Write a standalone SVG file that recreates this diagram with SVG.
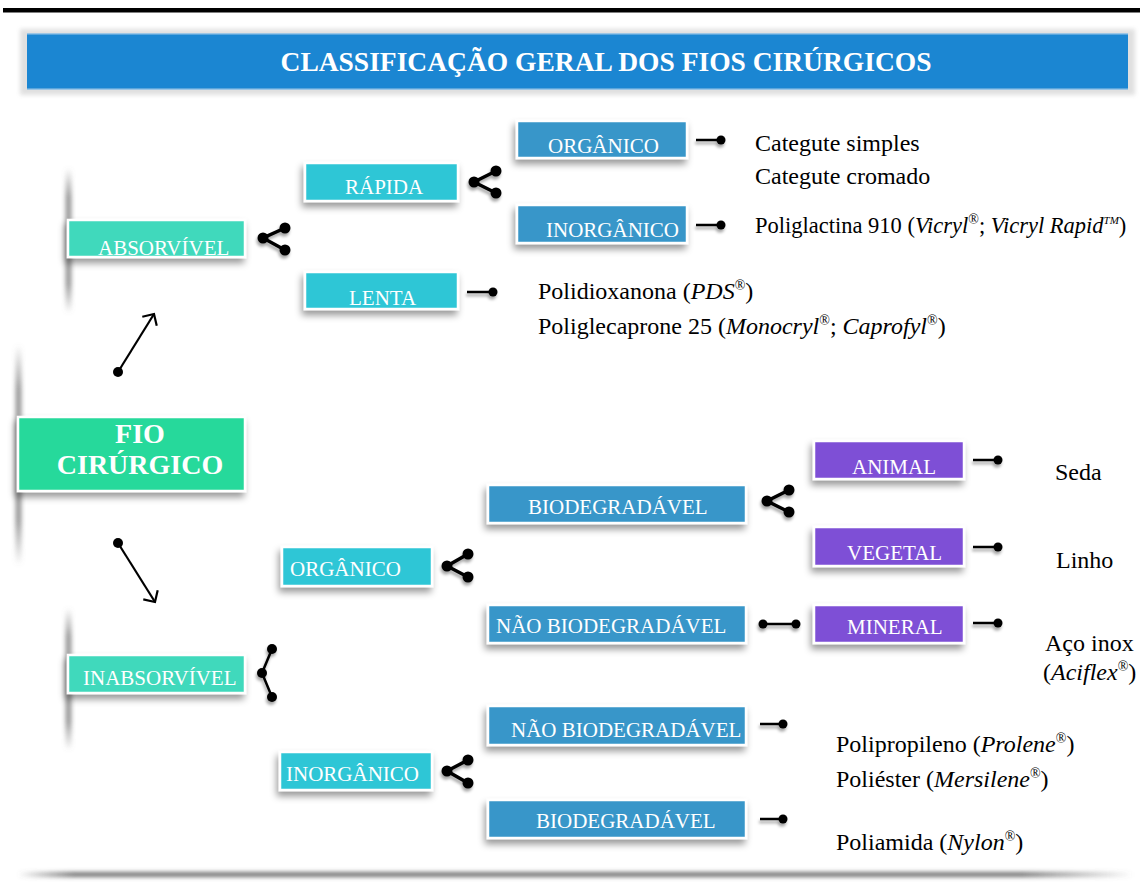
<svg xmlns="http://www.w3.org/2000/svg" width="1140" height="892" viewBox="0 0 1140 892">
<defs>
<style>
.nt{font-family:"Liberation Serif","Times New Roman",serif;font-size:21px;fill:#ffffff}
.lb{font-family:"Liberation Serif","Times New Roman",serif;font-size:24px;fill:#000000}
.lbs{font-size:22.5px}
.sup{font-size:14px}
.b{stroke:#ffffff;stroke-width:2.5}
.l1{fill:#40d9bc}
.l0{fill:#27d99b}
.l2{fill:#2fc6d6}
.l3{fill:#3796c9}
.l4{fill:#7e4fd6}
.ln{stroke:#000;stroke-width:2.5;fill:none}
.sl{stroke:#000;stroke-width:3.5;fill:none}
.ar{stroke:#000;stroke-width:2.2;fill:none}
</style>
<filter id="sh" x="-20%" y="-40%" width="140%" height="190%">
<feDropShadow dx="-2" dy="5" stdDeviation="3.5" flood-color="#000" flood-opacity="0.4"/>
</filter>
<filter id="ish" x="-50%" y="-50%" width="200%" height="200%">
<feDropShadow dx="-1" dy="3" stdDeviation="1.5" flood-color="#000" flood-opacity="0.35"/>
</filter>
<filter id="bl" x="-100%" y="-20%" width="300%" height="140%">
<feGaussianBlur stdDeviation="2.5"/>
</filter>
<filter id="bl2" x="-10%" y="-100%" width="120%" height="300%">
<feGaussianBlur stdDeviation="2"/>
</filter>
<linearGradient id="vf" x1="0" y1="0" x2="0" y2="1">
<stop offset="0" stop-color="#777" stop-opacity="0"/>
<stop offset="0.2" stop-color="#777" stop-opacity="0.9"/>
<stop offset="0.8" stop-color="#777" stop-opacity="0.9"/>
<stop offset="1" stop-color="#777" stop-opacity="0"/>
</linearGradient>
<linearGradient id="hf" x1="0" y1="0" x2="1" y2="0">
<stop offset="0" stop-color="#666" stop-opacity="0"/>
<stop offset="0.05" stop-color="#666" stop-opacity="0.9"/>
<stop offset="0.9" stop-color="#666" stop-opacity="0.9"/>
<stop offset="1" stop-color="#666" stop-opacity="0"/>
</linearGradient>
<marker id="chev" viewBox="-12 -12 24 24" markerWidth="24" markerHeight="24" refX="0" refY="0" orient="auto" markerUnits="userSpaceOnUse">
<path d="M-8.5,-8.5 L0,0 L-8.5,8.5" stroke="#000" stroke-width="2.2" fill="none"/>
</marker>
</defs>
<rect x="0" y="0" width="1140" height="892" fill="#ffffff"/>

<g id="frame">
<rect x="3" y="8" width="1137" height="4.5" fill="#000"/>
<rect x="20" y="29" width="1115" height="66" fill="#9a9a9a" opacity="0.3" filter="url(#bl2)"/>
<rect x="66" y="168" width="5" height="145" fill="url(#vf)" filter="url(#bl)"/>
<rect x="16" y="345" width="5" height="220" fill="url(#vf)" filter="url(#bl)"/>
<rect x="66" y="608" width="5" height="142" fill="url(#vf)" filter="url(#bl)"/>
<rect x="18" y="872" width="1115" height="5" fill="url(#hf)" filter="url(#bl2)"/>
</g>

<g id="title">
<rect x="27" y="33" width="1101" height="57" fill="#1b86d2"/>
<rect x="27" y="33" width="1101" height="1.5" fill="#9cc6e6"/>
<rect x="27" y="88.5" width="1101" height="1.5" fill="#9cc6e6"/>
<text x="606" y="71" text-anchor="middle" font-family="Liberation Serif, Times New Roman, serif" font-weight="bold" font-size="27.5" fill="#fff">CLASSIFICAÇÃO GERAL DOS FIOS CIRÚRGICOS</text>
</g>

<g id="connectors">
<circle cx="118" cy="372" r="5"/>
<line class="ar" x1="118" y1="372" x2="154" y2="314" marker-end="url(#chev)"/>
<circle cx="118" cy="543" r="5"/>
<line class="ar" x1="118" y1="543" x2="155" y2="602" marker-end="url(#chev)"/>
<g filter="url(#ish)">
<path class="sl" d="M285,228 L263,238 L285,250"/>
<circle cx="263" cy="238" r="5.5"/><circle cx="285" cy="228" r="5.5"/><circle cx="285" cy="250" r="5.5"/>
<path class="sl" d="M496,171 L474,182 L496,193"/>
<circle cx="474" cy="182" r="5.5"/><circle cx="496" cy="171" r="5.5"/><circle cx="496" cy="193" r="5.5"/>
<path class="sl" d="M468,554 L447,566 L468,577"/>
<circle cx="447" cy="566" r="5.5"/><circle cx="468" cy="554" r="5.5"/><circle cx="468" cy="577" r="5.5"/>
<path class="sl" d="M789,490 L767,501 L789,512"/>
<circle cx="767" cy="501" r="5.5"/><circle cx="789" cy="490" r="5.5"/><circle cx="789" cy="512" r="5.5"/>
<path class="sl" d="M468,760 L447,771 L468,783"/>
<circle cx="447" cy="771" r="5.5"/><circle cx="468" cy="760" r="5.5"/><circle cx="468" cy="783" r="5.5"/>
<path class="ln" d="M272,649 L262,673 L272,697" stroke-width="3"/>
<circle cx="272" cy="649" r="5"/><circle cx="262" cy="673" r="5"/><circle cx="272" cy="697" r="5"/>
<line class="ln" x1="696" y1="140" x2="721" y2="140"/><circle cx="721" cy="140" r="4.5"/>
<line class="ln" x1="696" y1="225" x2="721" y2="225"/><circle cx="721" cy="225" r="4.5"/>
<line class="ln" x1="467" y1="292" x2="493" y2="292"/><circle cx="493" cy="292" r="4.5"/>
<line class="ln" x1="973" y1="460" x2="998" y2="460"/><circle cx="998" cy="460" r="4.5"/>
<line class="ln" x1="973" y1="547" x2="998" y2="547"/><circle cx="998" cy="547" r="4.5"/>
<line class="ln" x1="973" y1="623" x2="998" y2="623"/><circle cx="998" cy="623" r="4.5"/>
<line class="ln" x1="760" y1="724" x2="783" y2="724"/><circle cx="783" cy="724" r="4.5"/>
<line class="ln" x1="760" y1="819" x2="783" y2="819"/><circle cx="783" cy="819" r="4.5"/>
<line class="ln" x1="763" y1="624" x2="796" y2="624"/><circle cx="763" cy="624" r="4.5"/><circle cx="796" cy="624" r="4.5"/>
</g>
</g>

<g id="n-fio">
<rect class="b l0" x="18" y="417" width="227" height="74" filter="url(#sh)"/>
<text x="140" y="443" text-anchor="middle" font-family="Liberation Serif, Times New Roman, serif" font-weight="bold" font-size="28" fill="#fff">FIO</text>
<text x="140" y="474" text-anchor="middle" font-family="Liberation Serif, Times New Roman, serif" font-weight="bold" font-size="28" fill="#fff">CIRÚRGICO</text>
</g>
<g id="n-absorvivel"><rect class="b l1" x="68" y="220" width="177" height="37" filter="url(#sh)"/><text class="nt" x="98" y="255">ABSORVÍVEL</text></g>
<g id="n-inabsorvivel"><rect class="b l1" x="68" y="655" width="177" height="38" filter="url(#sh)"/><text class="nt" x="83" y="685">INABSORVÍVEL</text></g>
<g id="n-rapida"><rect class="b l2" x="305" y="163" width="153" height="38" filter="url(#sh)"/><text class="nt" x="345" y="194">RÁPIDA</text></g>
<g id="n-lenta"><rect class="b l2" x="305" y="272" width="153" height="37" filter="url(#sh)"/><text class="nt" x="349" y="305">LENTA</text></g>
<g id="n-org1"><rect class="b l3" x="517" y="121" width="170" height="37" filter="url(#sh)"/><text class="nt" x="548" y="153">ORGÂNICO</text></g>
<g id="n-inorg1"><rect class="b l3" x="517" y="205" width="170" height="38" filter="url(#sh)"/><text class="nt" x="546" y="237">INORGÂNICO</text></g>
<g id="n-org2"><rect class="b l2" x="282" y="547" width="150" height="39" filter="url(#sh)"/><text class="nt" x="290" y="576">ORGÂNICO</text></g>
<g id="n-inorg2"><rect class="b l2" x="280" y="752" width="152" height="38" filter="url(#sh)"/><text class="nt" x="286" y="781">INORGÂNICO</text></g>
<g id="n-bio1"><rect class="b l3" x="488" y="485" width="258" height="38" filter="url(#sh)"/><text class="nt" x="528" y="514">BIODEGRADÁVEL</text></g>
<g id="n-naobio1"><rect class="b l3" x="488" y="605" width="258" height="38" filter="url(#sh)"/><text class="nt" x="496" y="633">NÃO BIODEGRADÁVEL</text></g>
<g id="n-naobio2"><rect class="b l3" x="488" y="706" width="258" height="39" filter="url(#sh)"/><text class="nt" x="511" y="737">NÃO BIODEGRADÁVEL</text></g>
<g id="n-bio2"><rect class="b l3" x="488" y="800" width="258" height="38" filter="url(#sh)"/><text class="nt" x="536" y="828">BIODEGRADÁVEL</text></g>
<g id="n-animal"><rect class="b l4" x="814" y="441" width="150" height="38" filter="url(#sh)"/><text class="nt" x="852" y="474">ANIMAL</text></g>
<g id="n-vegetal"><rect class="b l4" x="814" y="527" width="150" height="39" filter="url(#sh)"/><text class="nt" x="847" y="560">VEGETAL</text></g>
<g id="n-mineral"><rect class="b l4" x="814" y="605" width="150" height="38" filter="url(#sh)"/><text class="nt" x="847" y="634">MINERAL</text></g>

<g id="labels">
<text class="lb" x="755" y="151">Categute simples</text>
<text class="lb" x="755" y="184">Categute cromado</text>
<text class="lb lbs" x="755" y="233">Poliglactina 910 (<tspan font-style="italic">Vicryl</tspan><tspan class="sup" dy="-9">®</tspan><tspan dy="9">; </tspan><tspan font-style="italic">Vicryl Rapid</tspan><tspan style="font-size:11px" font-style="italic" dy="-9">TM</tspan><tspan dy="9">)</tspan></text>
<text class="lb" x="538" y="299">Polidioxanona (<tspan font-style="italic">PDS</tspan><tspan class="sup" dy="-9">®</tspan><tspan dy="9">)</tspan></text>
<text class="lb" x="538" y="334">Poliglecaprone 25 (<tspan font-style="italic">Monocryl</tspan><tspan class="sup" dy="-9">®</tspan><tspan dy="9">; </tspan><tspan font-style="italic">Caprofyl</tspan><tspan class="sup" dy="-9">®</tspan><tspan dy="9">)</tspan></text>
<text class="lb" x="1055" y="480">Seda</text>
<text class="lb" x="1056" y="568">Linho</text>
<text class="lb" x="1045" y="651">Aço inox</text>
<text class="lb" x="1043" y="680">(<tspan font-style="italic">Aciflex</tspan><tspan class="sup" dy="-9">®</tspan><tspan dy="9">)</tspan></text>
<text class="lb" x="836" y="752">Polipropileno (<tspan font-style="italic">Prolene</tspan><tspan class="sup" dy="-9">®</tspan><tspan dy="9">)</tspan></text>
<text class="lb" x="836" y="787">Poliéster (<tspan font-style="italic">Mersilene</tspan><tspan class="sup" dy="-9">®</tspan><tspan dy="9">)</tspan></text>
<text class="lb" x="836" y="850">Poliamida (<tspan font-style="italic">Nylon</tspan><tspan class="sup" dy="-9">®</tspan><tspan dy="9">)</tspan></text>
</g>
</svg>
